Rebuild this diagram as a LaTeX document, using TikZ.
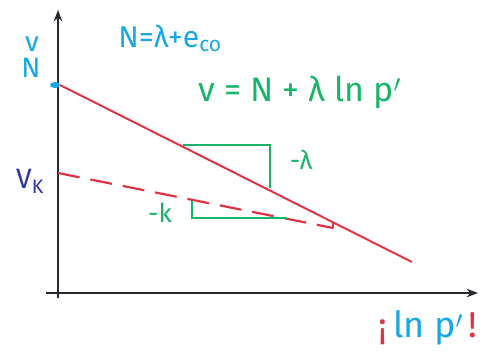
\documentclass[tikz,border=0pt]{standalone}
\usepackage{fontspec}
\setmainfont{Fira Sans}
\usetikzlibrary{arrows.meta,positioning}
\definecolor{penred}{RGB}{222,52,68}
\definecolor{pencyan}{RGB}{22,168,228}
\definecolor{pengreen}{RGB}{24,180,104}
\definecolor{penblue}{RGB}{44,52,160}
\definecolor{penink}{RGB}{40,40,50}
\tikzset{
  >={Stealth[length=4mm,width=3mm]},
  axis/.style={->,line width=2pt,draw=penink},
  line/.style={line width=2pt,draw=penred},
  dashline/.style={line width=2.2pt,draw=penred,dash pattern=on 22pt off 11pt},
  slope/.style={line width=2pt,draw=pengreen},
  lbl/.style={font=\fontsize{#1}{#1}\selectfont,inner sep=1pt},
  lbl/.default=24,
}
\begin{document}
\begin{tikzpicture}[x=1pt,y=-1pt]
  \useasboundingbox (0,0) rectangle (494,358);
  % axes
  \coordinate (ybot) at (58,298);
  \coordinate (ytop) at (58,10);
  \coordinate (xbeg) at (46,293);
  \coordinate (xend) at (478,293);
  \draw[axis] (ybot) -- (ytop);
  \draw[axis] (xbeg) -- (xend);
  % normal compression line and unloading line
  \coordinate (N0) at (60,85);
  \coordinate (N1) at (412,262);
  \coordinate (K0) at (58,173);
  \coordinate (K1) at (333,228);
  \coordinate (K2) at (333,222);
  \fill[pencyan] (55,85) ellipse (5 and 3);
  \draw[line] (N0) -- (N1);
  \draw[dashline] (K0) -- (K1);
  \draw[line] (K1) -- (K2);
  % slope marks
  \coordinate (La) at (183,145);
  \coordinate (Lb) at (270,145);
  \coordinate (Lc) at (270,188);
  \draw[slope] (La) -- (Lb) -- (Lc);
  \coordinate (Ka) at (192,201);
  \coordinate (Kb) at (192,218);
  \coordinate (Kc) at (287,218);
  \draw[slope] (Ka) -- (Kb) -- (Kc);
  % labels
  \node[lbl=28,text=pencyan] (vlab) at (32,44) {v};
  \node[lbl=28,text=pencyan] (nlab) at (31,68) {N};
  \node[lbl=30,text=pencyan] (neq) at (170,38) {N=λ+e\textsubscript{co}};
  \node[lbl=34,text=pengreen] (veq) at (300,92) {v = N + λ ln p$'$};
  \node[lbl=26,text=pengreen] (lam) at (301,160) {-λ};
  \node[lbl=26,text=pengreen] (kap) at (160,213) {-k};
  \node[lbl=28,text=penblue] (vk) at (30,181) {V\textsubscript{K}};
  \node[lbl=36] (xlab) at (428,328) {\textcolor{penred}{¡}\,\textcolor{pencyan}{ln p$'$}\,\textcolor{penred}{!}};
\end{tikzpicture}
\end{document}
